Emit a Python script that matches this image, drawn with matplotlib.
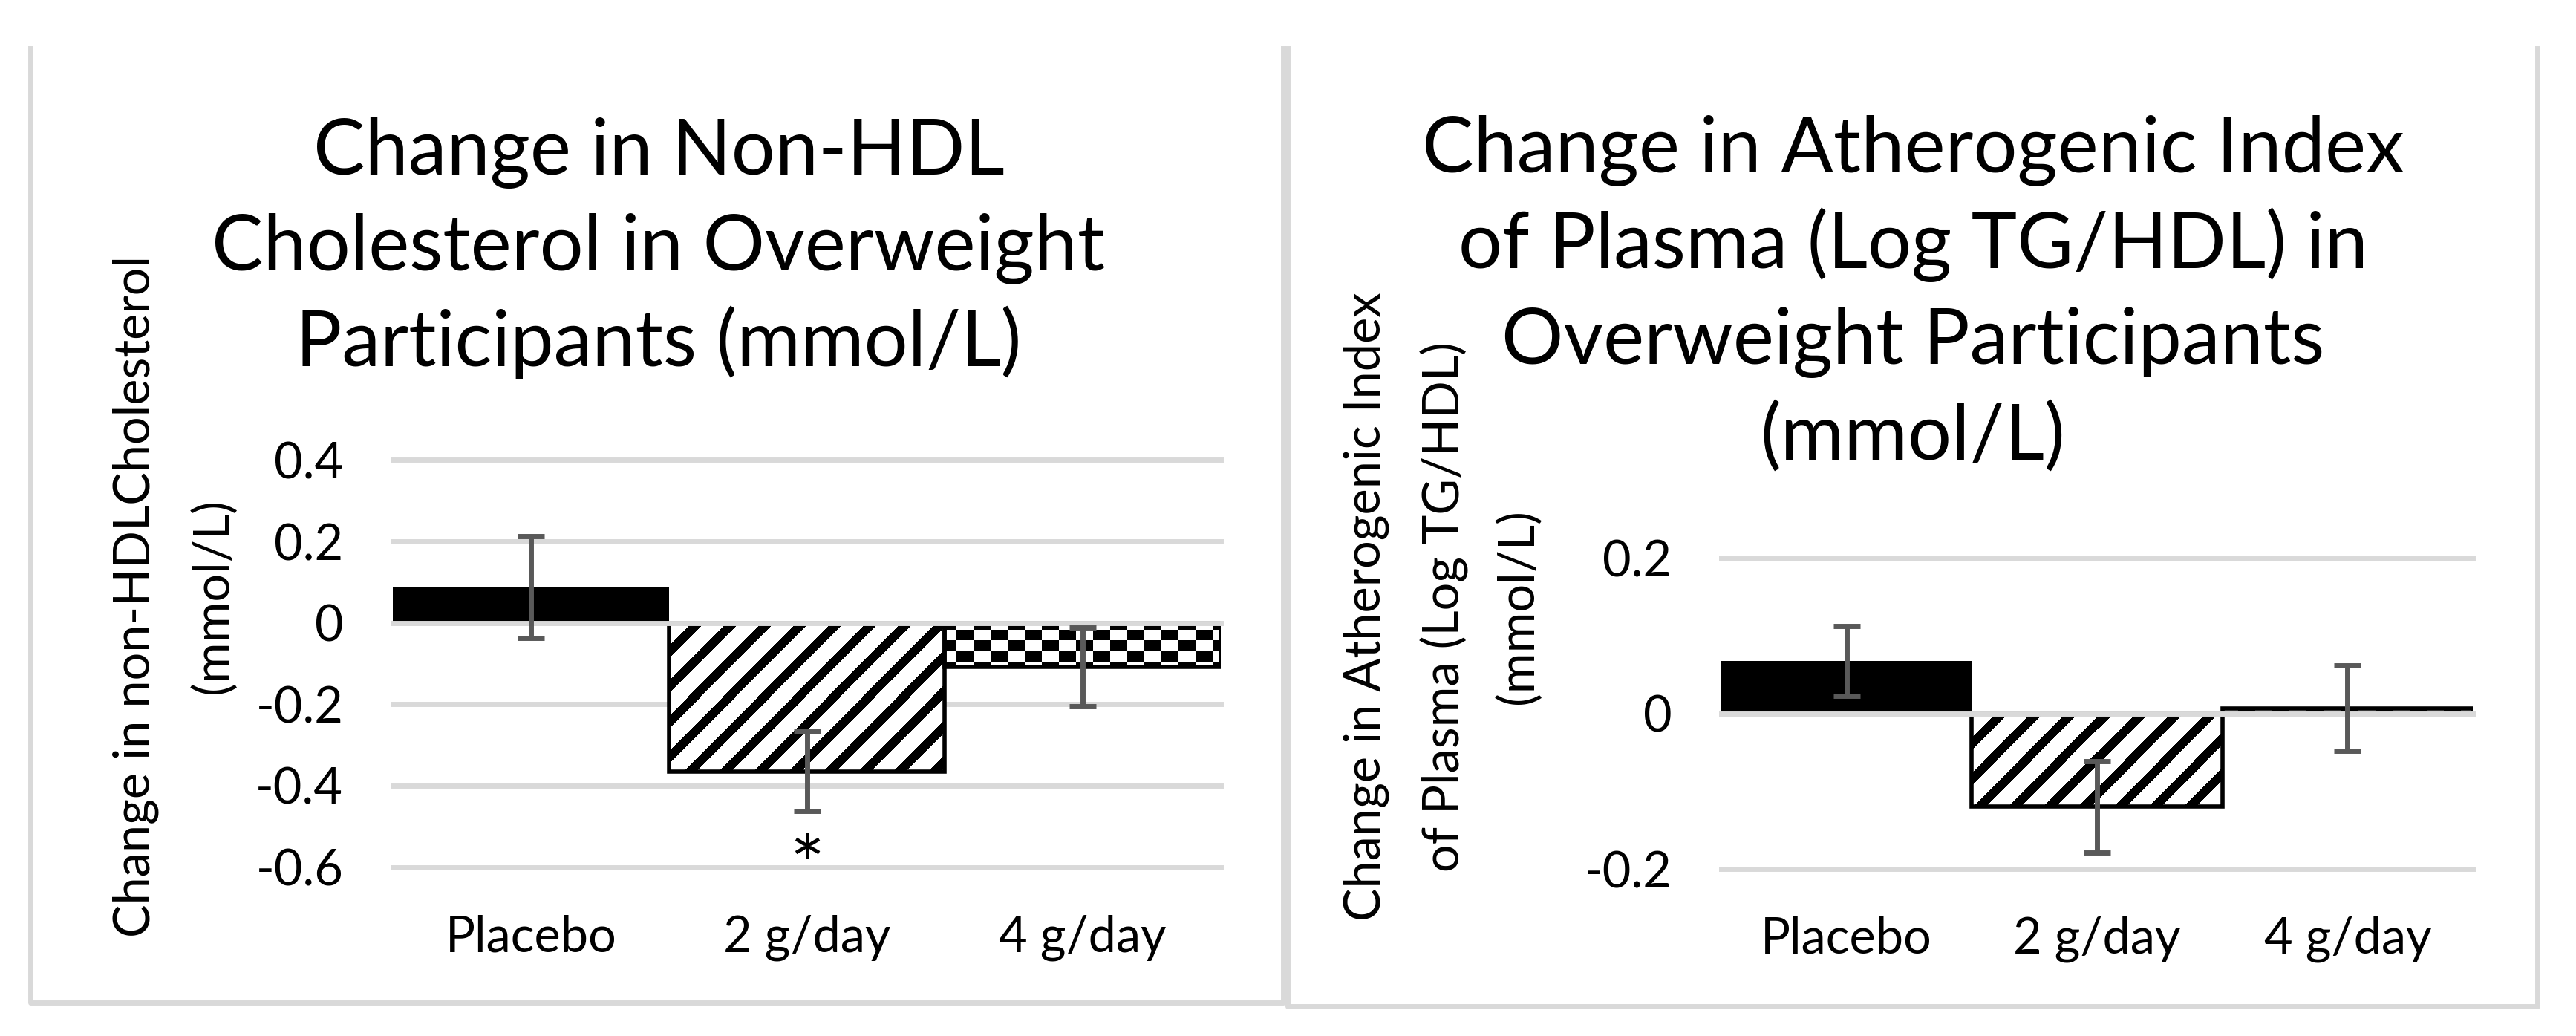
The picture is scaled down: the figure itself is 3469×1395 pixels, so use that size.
import matplotlib
matplotlib.use('Agg')
import matplotlib.pyplot as plt
import numpy as np
from matplotlib.lines import Line2D

plt.rcParams['font.family'] = ['Lato', 'DejaVu Sans']

# data
groups = ['Placebo', '2 g/day', '4 g/day']
nonhdl_mean = [0.088, -0.365, -0.108]
nonhdl_err = [0.125, 0.098, 0.097]
aip_mean = [0.068, -0.120, 0.007]
aip_err = [0.045, 0.059, 0.055]
nonhdl_ticks = [0.4, 0.2, 0, -0.2, -0.4, -0.6]
aip_ticks = [0.2, 0, -0.2]
signif = [False, True, False]

W, H = 3469, 1395
fig = plt.figure(figsize=(W / 100, H / 100), dpi=100)


def fx(px):
    return px / W


def fy(py):
    return 1 - py / H


GRID = '#D9D9D9'
ERR = '#595959'

# panel frames (no top edge)
for xs, ys in [([40.5, 40.5, 1728, 1728], [65, 1350, 1350, 65]),
               ([1734, 1734, 3416.5, 3416.5], [65, 1354.5, 1354.5, 65])]:
    fig.add_artist(Line2D([fx(v) for v in xs], [fy(v) for v in ys],
                          color=GRID, lw=5, transform=fig.transFigure))


def pattern(kind, w, h, px0, py0):
    xx = px0 + np.arange(w)[None, :]
    yy = py0 + np.arange(h)[:, None]
    if kind == 'stripe':
        arr = ((xx - yy) % 47) >= 17
    else:
        arr = ((xx // 23 + yy // 14) % 2) == 1
    return arr.astype(float)


def chart(rect, means, errs, ticks, ylim):
    ax = fig.add_axes(rect)
    x = np.arange(len(groups))
    ax.set_xlim(-0.5, 2.5)
    ax.set_ylim(*ylim)
    bars = ax.bar(x, means, width=1.0, color=['black', 'none', 'none'],
                  edgecolor='black', linewidth=[0, 4, 4], zorder=3)
    for bar, kind in zip(bars, [None, 'stripe', 'checker']):
        if kind is None:
            continue
        x0, x1 = bar.get_x(), bar.get_x() + bar.get_width()
        y0, y1 = sorted([bar.get_y(), bar.get_y() + bar.get_height()])
        p0 = ax.transData.transform((x0, y0))
        p1 = ax.transData.transform((x1, y1))
        w = max(int(round(p1[0] - p0[0])), 1)
        h = max(int(round(p1[1] - p0[1])), 1)
        arr = pattern(kind, w, h, int(p0[0]), int(p0[1]))
        im = ax.imshow(arr, extent=(x0, x1, y0, y1), origin='lower', cmap='gray',
                       vmin=0, vmax=1, interpolation='nearest', aspect='auto', zorder=2.5)
        im.set_clip_path(bar)
    ax.set_xlim(-0.5, 2.5)
    ax.set_ylim(*ylim)
    ax.axhline(0, color=GRID, lw=5, zorder=4, clip_on=False)
    ax.errorbar(x, means, yerr=errs, fmt='none', ecolor=ERR, elinewidth=5,
                capsize=13, capthick=5, zorder=5)
    ax.set_yticks(ticks)
    ax.set_yticklabels([f'{v:g}' for v in ticks])
    ax.set_xticks(x)
    ax.set_xticklabels(groups)
    ax.grid(axis='y', color=GRID, linewidth=5)
    ax.set_axisbelow(True)
    for gl in ax.get_ygridlines():
        gl.set_clip_on(False)
    for s in ax.spines.values():
        s.set_visible(False)
    ax.tick_params(axis='y', length=0, labelsize=48, pad=48)
    ax.tick_params(axis='x', length=0, labelsize=48, pad=46)
    return ax


ax1 = chart([fx(529), fy(1167.5), fx(1644) - fx(529), fy(619.5) - fy(1167.5)],
            nonhdl_mean, nonhdl_err, nonhdl_ticks, (-0.6, 0.4))
for i, s in enumerate(signif):
    if s:
        ax1.annotate('*', xy=(i, nonhdl_mean[i] - nonhdl_err[i]), xytext=(0, -81),
                     textcoords='offset points', ha='center', va='baseline',
                     fontsize=80, annotation_clip=False)

ax2 = chart([fx(2318), fy(1170), fx(3330) - fx(2318), fy(752) - fy(1170)],
            aip_mean, aip_err, aip_ticks, (-0.2, 0.2))

# titles, one text per line
title1 = ['Change in Non-HDL', 'Cholesterol in Overweight', 'Participants (mmol/L)']
title2 = ['Change in Atherogenic Index', 'of Plasma (Log TG/HDL) in',
          'Overweight Participants', '(mmol/L)']
for i, line in enumerate(title1):
    fig.text(fx(887), fy(235 + 129 * i), line, ha='center', va='baseline', fontsize=75)
for i, line in enumerate(title2):
    fig.text(fx(2576), fy(232 + 129 * i), line, ha='center', va='baseline', fontsize=75)

# y axis titles
ylab1 = ['Change in non-HDLCholesterol', '(mmol/L)']
ylab2 = ['Change in Atherogenic Index', 'of Plasma (Log TG/HDL)', '(mmol/L)']
for xp, line in zip([183, 288], ylab1):
    fig.text(fx(xp), fy(803), line, rotation=90, ha='center', va='center', fontsize=48)
for xp, line in zip([1840, 1945, 2045], ylab2):
    fig.text(fx(xp), fy(817), line, rotation=90, ha='center', va='center', fontsize=48)

fig.savefig('out.png', dpi=100, facecolor='white')
